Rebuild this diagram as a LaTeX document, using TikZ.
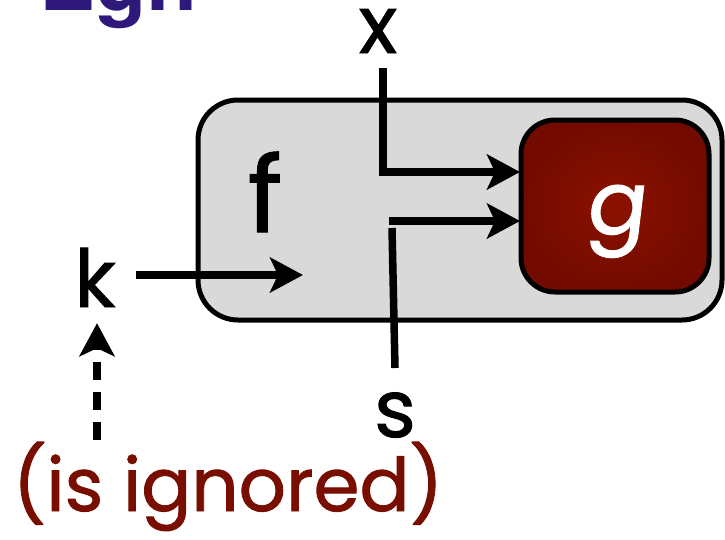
\documentclass[tikz,border=0pt]{standalone}
\usepackage{fontspec}
\setmainfont[FakeBold=1.2]{Poppins}
\newfontfamily\slantfont[FakeSlant=0.12, FakeBold=1.2]{Poppins}
\newfontfamily\titlefont{TeX Gyre Heros}
\usetikzlibrary{arrows.meta}

\definecolor{titlepurple}{RGB}{46,24,122}
\definecolor{boxgray}{RGB}{217,217,217}
\definecolor{gdark}{RGB}{114,10,0}
\definecolor{glight}{RGB}{140,18,0}
\definecolor{ignred}{RGB}{120,14,0}

\begin{document}
\begin{tikzpicture}[x=1pt, y=-1pt,
    lbl/.style={font=\fontsize{80}{88}\selectfont, inner sep=2pt},
    wire/.style={line width=7.5pt, -{Stealth[length=33pt, width=35pt, inset=8pt]}},
    plain/.style={line width=7.5pt}]
    \useasboundingbox (0,0) rectangle (725,539);

    % cut-off title
    \node[anchor=base west, inner sep=0pt, text=titlepurple,
          font=\titlefont\bfseries\fontsize{84}{90}\selectfont] (ttl) at (39,10) {Egh};

    % boxes
    \node[draw, line width=5pt, rounded corners=40pt, fill=boxgray,
          minimum width=524pt, minimum height=220pt] (fbox) at (460,210) {};
    \node[draw, line width=5pt, rounded corners=34pt, inner color=glight, outer color=gdark,
          minimum width=188pt, minimum height=172pt] (g) at (615,206) {};
    \node[lbl, anchor=base, text=white, font=\slantfont\fontsize{88}{96}\selectfont] (glab) at (615,234) {g};
    \node[lbl, anchor=base, font=\fontsize{105}{112}\selectfont] (flab) at (265,232) {f};

    % labels
    \node[lbl, anchor=base] (xlab) at (378,53) {x};
    \node[lbl, anchor=base] (klab) at (95,307) {k};
    \node[lbl, anchor=base] (slab) at (395,437) {s};
    \node[lbl, anchor=base, text=ignred, font=\fontsize{74}{80}\selectfont] (ignored) at (228,511) {(is ignored)};

    \coordinate (xend) at (383,68);
    \coordinate (gx) at (520,172);
    \coordinate (gs) at (520,221);
    \coordinate (sturn) at (389,221);
    \coordinate (stop) at (392,228);
    \coordinate (sbot) at (395,368);
    \coordinate (kin) at (303,275);

    % connectors
    \draw[wire] (xend) |- (gx);
    \draw[wire] (sturn) -- (gs);
    \draw[plain] (sbot) -- (stop);
    \draw[wire, shorten <=18pt] (klab.east |- kin) -- (kin);
    \draw[wire, dash pattern=on 18pt off 12pt, shorten >=14pt] (ignored.north -| 97,0) -- (klab.south -| 97,0);
\end{tikzpicture}
\end{document}
